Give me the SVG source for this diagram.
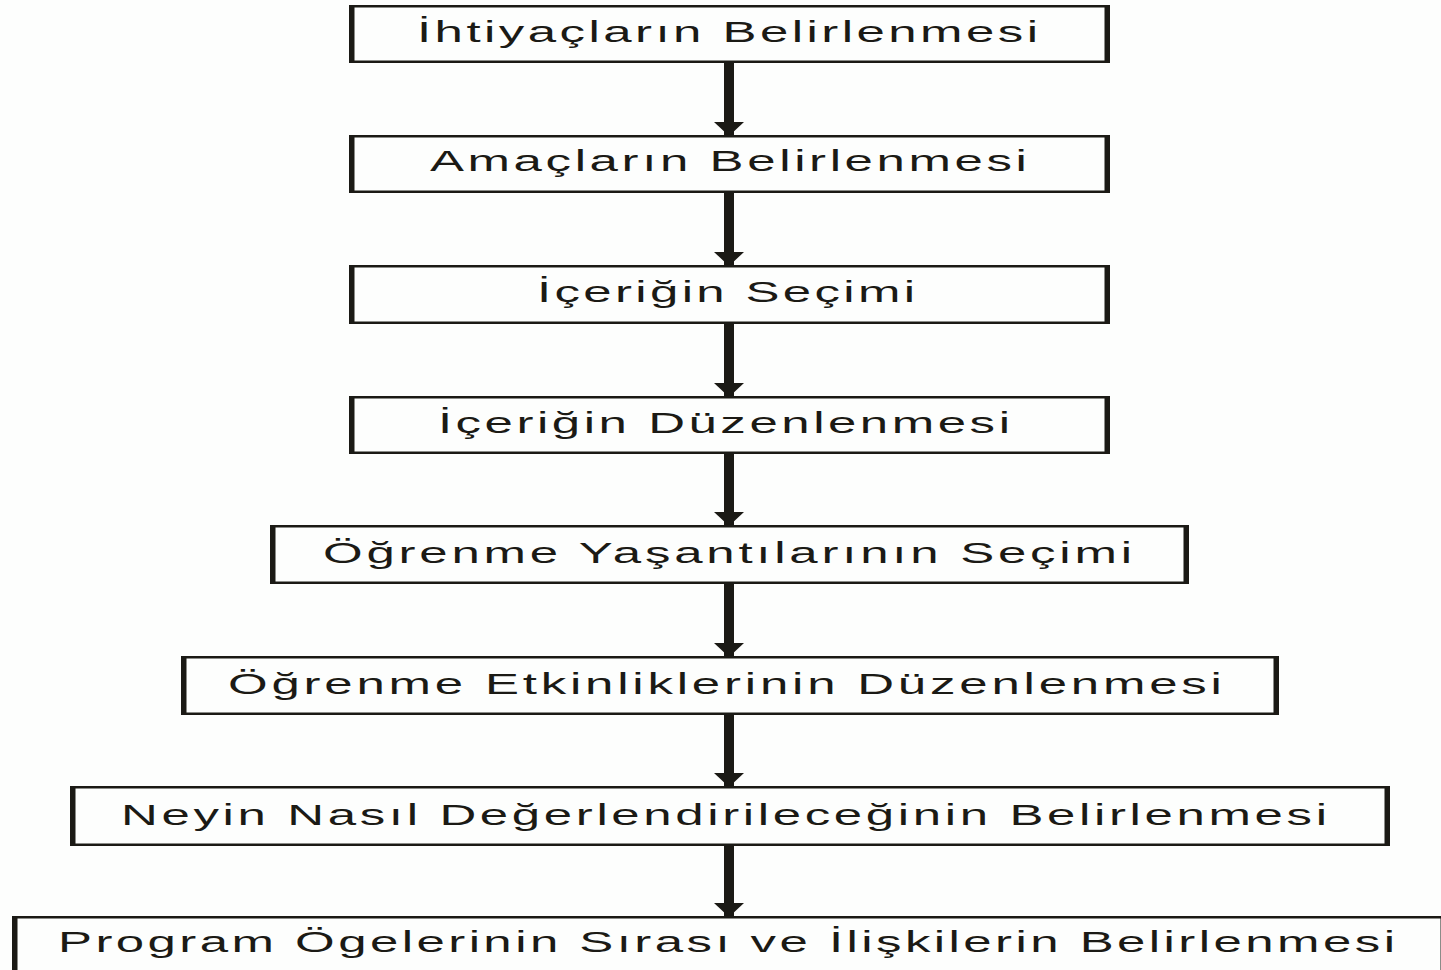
<svg xmlns="http://www.w3.org/2000/svg" width="1441" height="970" viewBox="0 0 1441 970">
  <defs>
    <style>
      .box { fill: #1b1a15; fill-rule: evenodd; }
      .lbl { font-family: "Liberation Sans", Arial, sans-serif; font-size: 30px; fill: #1b1a15; }
      .conn { stroke: #1b1a15; stroke-width: 10; fill: none; }
    </style>
    <marker id="head" viewBox="0 0 14 30" markerWidth="14" markerHeight="30" refX="14" refY="15" orient="auto" markerUnits="userSpaceOnUse">
      <path d="M0,0 L14,15 L0,30 Z" fill="#1b1a15"/>
    </marker>
  </defs>
  <rect x="0" y="0" width="1441" height="970" fill="#fdfefd"/>

  <g id="connectors">
    <line class="conn" x1="729" y1="62" x2="729" y2="136" marker-end="url(#head)"/>
    <line class="conn" x1="729" y1="192" x2="729" y2="266" marker-end="url(#head)"/>
    <line class="conn" x1="729" y1="323" x2="729" y2="397" marker-end="url(#head)"/>
    <line class="conn" x1="729" y1="453" x2="729" y2="526" marker-end="url(#head)"/>
    <line class="conn" x1="729" y1="583" x2="729" y2="657" marker-end="url(#head)"/>
    <line class="conn" x1="729" y1="714" x2="729" y2="787" marker-end="url(#head)"/>
    <line class="conn" x1="729" y1="845" x2="729" y2="917" marker-end="url(#head)"/>
  </g>

  <g id="n1">
    <path class="box" d="M349,5 H1110 V63 H349 Z M354.5,7.5 V60.5 H1104.5 V7.5 Z"/>
    <text class="lbl" transform="scale(1.7 1)" x="245.3" y="42" textLength="365.3" lengthAdjust="spacing">İhtiyaçların Belirlenmesi</text>
  </g>
  <g id="n2">
    <path class="box" d="M349,135 H1110 V193 H349 Z M354.5,137.5 V190.5 H1104.5 V137.5 Z"/>
    <text class="lbl" transform="scale(1.7 1)" x="252.9" y="171" textLength="351.2" lengthAdjust="spacing">Amaçların Belirlenmesi</text>
  </g>
  <g id="n3">
    <path class="box" d="M349,265 H1110 V324 H349 Z M354.5,267.5 V321.5 H1104.5 V267.5 Z"/>
    <text class="lbl" transform="scale(1.7 1)" x="315.9" y="302" textLength="222.4" lengthAdjust="spacing">İçeriğin Seçimi</text>
  </g>
  <g id="n4">
    <path class="box" d="M349,396 H1110 V454 H349 Z M354.5,398.5 V451.5 H1104.5 V398.5 Z"/>
    <text class="lbl" transform="scale(1.7 1)" x="257.6" y="433" textLength="336.5" lengthAdjust="spacing">İçeriğin Düzenlenmesi</text>
  </g>
  <g id="n5">
    <path class="box" d="M270,525 H1189 V584 H270 Z M275.5,527.5 V581.5 H1183.5 V527.5 Z"/>
    <text class="lbl" transform="scale(1.7 1)" x="190" y="563" textLength="475.9" lengthAdjust="spacing">Öğrenme Yaşantılarının Seçimi</text>
  </g>
  <g id="n6">
    <path class="box" d="M181,656 H1279 V715 H181 Z M186.5,658.5 V712.5 H1273.5 V658.5 Z"/>
    <text class="lbl" transform="scale(1.7 1)" x="134.1" y="694" textLength="584.7" lengthAdjust="spacing">Öğrenme Etkinliklerinin Düzenlenmesi</text>
  </g>
  <g id="n7">
    <path class="box" d="M70,786 H1390 V846 H70 Z M75.5,788.5 V843.5 H1384.5 V788.5 Z"/>
    <text class="lbl" transform="scale(1.7 1)" x="71.2" y="825" textLength="709.4" lengthAdjust="spacing">Neyin Nasıl Değerlendirileceğinin Belirlenmesi</text>
  </g>
  <g id="n8">
    <path class="box" d="M12,916 H1446 V976 H12 Z M17.5,918.5 V973.5 H1440.5 V918.5 Z"/>
    <text class="lbl" transform="scale(1.7 1)" x="34.1" y="952" textLength="786.5" lengthAdjust="spacing">Program Ögelerinin Sırası ve İlişkilerin Belirlenmesi</text>
  </g>
</svg>
